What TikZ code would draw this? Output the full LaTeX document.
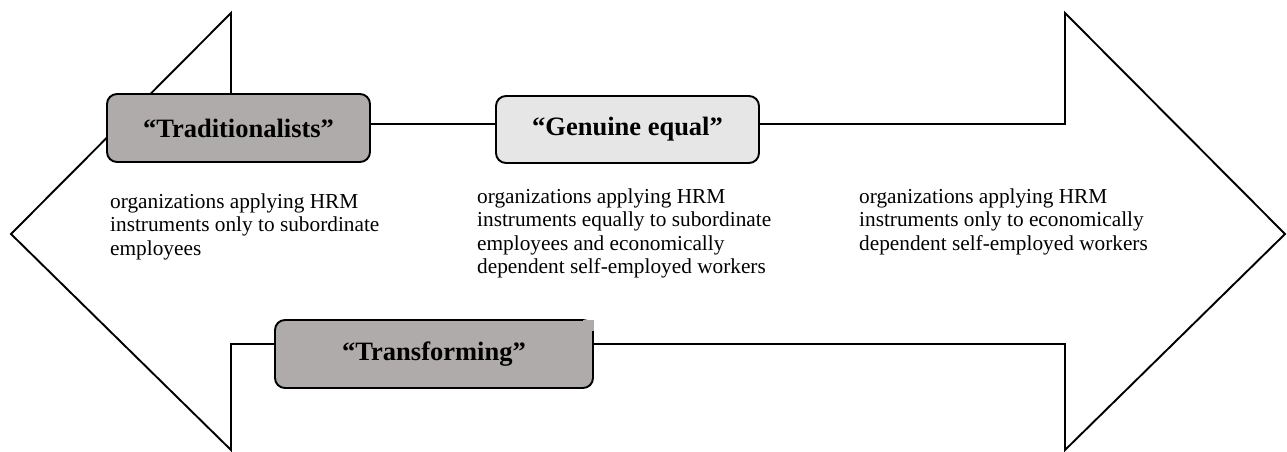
\documentclass[tikz,border=0pt]{standalone}
\usepackage{fontspec}
\setmainfont{Liberation Serif}
\definecolor{boxdark}{RGB}{175,171,171}
\definecolor{boxlight}{RGB}{231,230,230}
\begin{document}
\begin{tikzpicture}[x=1pt,y=-1pt,
  outline/.style={draw=black,line width=1.9pt,line join=miter},
  titlebox/.style={draw=black,line width=1.9pt,rounded corners=10pt,
    inner sep=0pt,font=\fontsize{26.5}{30}\selectfont\bfseries},
  note/.style={anchor=base west,inner sep=0pt,align=left,
    font=\fontsize{21.3}{23.5}\selectfont}]
\useasboundingbox (0,0) rectangle (1287,452);
% double-headed arrow
\draw[outline,fill=white] (11,234) -- (231,13) -- (231,124) -- (1065,124)
  -- (1065,13) -- (1285,234) -- (1065,450) -- (1065,344) -- (231,344)
  -- (231,450) -- cycle;
% category boxes
\node[titlebox,fill=boxdark,minimum width=263pt,minimum height=68pt]
  (trad) at (238.5,128) {``Traditionalists''};
\node[titlebox,fill=boxlight,minimum width=263pt,minimum height=67pt]
  (genu) at (627.5,129.5) {``Genuine equal''};
\node[titlebox,fill=boxdark,minimum width=318pt,minimum height=68pt]
  (trans) at (434,354) {};
% square top-right corner of the lower box
\fill[boxdark] (583,320.1) rectangle (593.9,331);
\node[font=\fontsize{26.5}{30}\selectfont\bfseries] (translabel) at (trans.center) {``Transforming''};
% descriptions (anchored at the baseline of the last line)
\node[note] (d1) at (110,255) {organizations applying HRM\\instruments only to subordinate\\employees};
\node[note] (d2) at (477,273.5) {organizations applying HRM\\instruments equally to subordinate\\employees and economically\\dependent self-employed workers};
\node[note] (d3) at (859,250) {organizations applying HRM\\instruments only to economically\\dependent self-employed workers};
\end{tikzpicture}
\end{document}
